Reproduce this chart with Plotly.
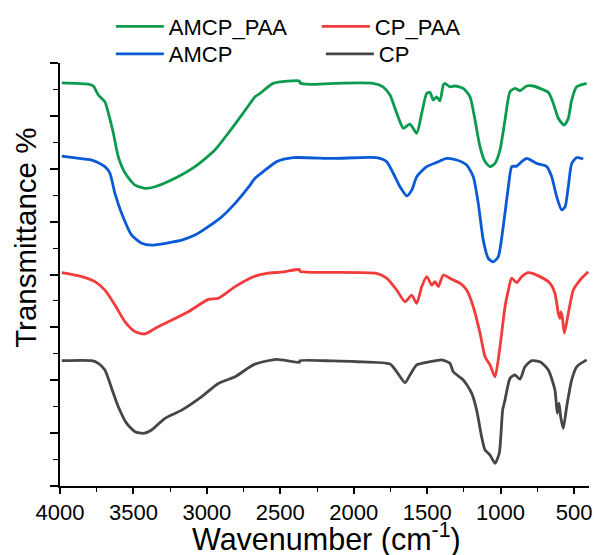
import plotly.graph_objects as go

# ---------------- data (wavenumber cm^-1, transmittance, offset a.u.) ----------------
amcp_paa_wn = [3988, 3807, 3773, 3739, 3694, 3671, 3637, 3603, 3557, 3489, 3421, 3353, 3217, 3081,
               2945, 2854, 2763, 2706, 2672, 2638, 2548, 2370, 2366, 2298, 2139, 1869, 1801, 1753,
               1707, 1662, 1617, 1571, 1537, 1503, 1481, 1458, 1435, 1413, 1390, 1379, 1345, 1310,
               1254, 1208, 1174, 1140, 1106, 1072, 1038, 1004, 970, 936, 902, 868, 822, 777, 732,
               675, 641, 607, 568, 539, 516, 482, 414]
amcp_paa_t = [152.5, 152.0, 151.3, 147.9, 145.3, 141.1, 133.5, 124.5, 118.4, 113.8, 112.6, 113.2, 116.4, 120.8,
              127.1, 133.5, 140.3, 144.7, 147.2, 148.5, 152.3, 153.2, 152.5, 151.9, 152.3, 152.3, 151.0, 147.9,
              141.0, 135.3, 136.9, 133.4, 141.0, 148.5, 148.9, 146.0, 147.2, 145.7, 151.7, 152.3, 151.0, 151.3,
              150.4, 147.2, 138.4, 128.3, 122.7, 120.8, 122.0, 127.1, 138.4, 149.1, 150.4, 149.5, 151.3, 151.3, 150.4,
              148.9, 144.7, 139.1, 136.5, 139.1, 146.0, 151.0, 152.3]

amcp_wn = [3988, 3830, 3784, 3739, 3694, 3660, 3626, 3580, 3512, 3444, 3376, 3263, 3171, 3081, 2990,
           2899, 2808, 2706, 2672, 2616, 2524, 2411, 2139, 1844, 1776, 1731, 1685, 1639, 1605, 1571,
           1503, 1435, 1367, 1299, 1231, 1186, 1152, 1118, 1084, 1050, 1016, 982, 947, 924, 890, 856,
           822, 754, 686, 652, 618, 584, 561, 539, 516, 482, 437]
amcp_t = [124.8, 123.6, 123.3, 122.3, 120.8, 118.3, 110.7, 103.1, 94.9, 91.8, 91.1, 92.0, 93.0, 94.9, 98.1,
          101.8, 106.9, 113.8, 116.4, 118.9, 122.7, 124.2, 123.9, 124.2, 122.7, 118.3, 113.2, 109.7, 111.9, 117.0,
          120.8, 122.4, 123.9, 123.3, 121.4, 117.0, 106.9, 93.0, 86.1, 84.8, 86.7, 98.1, 113.2, 120.8, 121.0, 122.7,
          123.9, 122.0, 120.8, 117.0, 109.4, 104.4, 105.6, 113.2, 122.0, 124.2, 123.7]

cp_paa_wn = [3988, 3852, 3762, 3694, 3626, 3557, 3489, 3421, 3353, 3263, 3126, 2990, 2922, 2808, 2706,
             2672, 2593, 2480, 2370, 2366, 2252, 1844, 1776, 1707, 1651, 1605, 1571, 1537, 1503, 1469,
             1447, 1424, 1390, 1345, 1322, 1276, 1231, 1186, 1140, 1106, 1072, 1038, 1004, 970, 947,
             924, 890, 856, 811, 732, 664, 630, 607, 596, 589, 580, 566, 539, 505, 459, 403]
cp_paa_t = [80.7, 79.2, 77.3, 74.1, 68.5, 62.1, 58.4, 57.5, 59.6, 62.1, 65.9, 70.6, 71.0, 75.4, 78.6,
            79.4, 80.4, 81.0, 81.9, 81.2, 80.8, 80.4, 78.6, 74.1, 69.7, 72.2, 69.1, 75.4, 79.2, 76.0,
            77.3, 75.4, 79.8, 78.6, 77.9, 76.7, 74.1, 67.8, 57.8, 48.9, 45.8, 41.3, 52.7, 67.8, 74.1,
            78.6, 76.9, 79.2, 80.7, 79.2, 76.7, 72.9, 65.3, 63.4, 65.9, 64.0, 57.8, 65.3, 74.1, 77.9, 81.0]

cp_wn = [3988, 3784, 3739, 3694, 3648, 3603, 3546, 3489, 3433, 3376, 3285, 3171, 3035, 2922, 2808,
         2706, 2672, 2616, 2524, 2370, 2366, 2139, 1980, 1753, 1707, 1651, 1617, 1571, 1481, 1401,
         1345, 1322, 1254, 1197, 1163, 1129, 1106, 1072, 1038, 1009, 986, 970, 936, 902, 868, 834,
         788, 732, 675, 630, 614, 602, 591, 573, 550, 516, 482, 414]
cp_t = [47.4, 47.4, 46.4, 43.9, 36.9, 30.0, 23.7, 20.5, 19.9, 21.2, 25.6, 28.7, 33.8, 38.8, 41.3,
        45.1, 46.1, 47.0, 47.9, 46.8, 47.4, 47.3, 47.0, 46.1, 43.2, 39.1, 42.0, 45.8, 47.0, 47.7,
        46.4, 43.2, 40.1, 35.1, 28.7, 18.6, 13.6, 11.7, 8.6, 12.4, 28.7, 32.5, 40.7, 42.0, 40.4, 45.1,
        47.4, 47.0, 43.9, 36.3, 27.5, 31.3, 26.2, 21.8, 30.0, 40.1, 45.1, 47.7]

series_names = ["AMCP_PAA", "CP_PAA", "AMCP", "CP"]
series_colors = ["#0b9a4e", "#f23b3b", "#0a5ad6", "#464646"]
legend_rows = ["legend", "legend", "legend2", "legend2"]
x_ticks = [4000, 3500, 3000, 2500, 2000, 1500, 1000, 500]
x_title = "Wavenumber (cm<sup>-1</sup>)"
y_title = "Transmittance %"

FONT = "Arial, Liberation Sans, sans-serif"

fig = go.Figure()
data = {
    "AMCP_PAA": (amcp_paa_wn, amcp_paa_t),
    "CP_PAA": (cp_paa_wn, cp_paa_t),
    "AMCP": (amcp_wn, amcp_t),
    "CP": (cp_wn, cp_t),
}
for name, color, lg in zip(series_names, series_colors, legend_rows):
    xs, ys = data[name]
    fig.add_trace(go.Scatter(x=xs, y=ys, mode="lines", name=name, legend=lg,
                             line=dict(color=color, width=2.8, shape="spline", smoothing=0.6)))

legend_common = dict(orientation="h", xref="container", yref="container",
                     xanchor="left", yanchor="top", entrywidthmode="pixels", itemwidth=48,
                     font=dict(size=22, family=FONT), bgcolor="rgba(0,0,0,0)",
                     itemclick=False, itemdoubleclick=False)

fig.update_layout(
    width=594, height=555,
    margin=dict(l=60, r=5, t=63, b=69, autoexpand=False),
    paper_bgcolor="white", plot_bgcolor="white",
    font=dict(family=FONT, color="black"),
    showlegend=True,
    legend=dict(x=0.1866, y=0.99, entrywidth=143, **legend_common),
    legend2=dict(x=0.1866, y=0.9405, entrywidth=147, **legend_common),
    annotations=[
        dict(text=y_title, textangle=-90, xref="paper", yref="paper",
             x=-0.064, y=0.587, xanchor="center", yanchor="middle",
             showarrow=False, font=dict(size=29.5, family=FONT, color="black")),
        dict(text=x_title, xref="paper", yref="paper",
             x=0.503, y=-0.173, xanchor="center", yanchor="bottom",
             showarrow=False, font=dict(size=30.5, family=FONT, color="black")),
    ],
)
fig.update_xaxes(
    range=[4000, 398], tickvals=x_ticks, ticktext=[str(v) for v in x_ticks],
    ticks="outside", ticklen=6, tickwidth=1.5, tickcolor="black",
    minor=dict(dtick=250, tick0=0, ticks="outside", ticklen=4, tickwidth=1.2, tickcolor="black"),
    showline=True, linewidth=1.5, linecolor="black", showgrid=False, zeroline=False,
    tickfont=dict(size=22, family=FONT), automargin=False,
)
fig.update_yaxes(
    range=[0, 160], dtick=20, tick0=0, showticklabels=False,
    ticks="outside", ticklen=8, tickwidth=1.5, tickcolor="black",
    minor=dict(dtick=10, tick0=0, ticks="outside", ticklen=5, tickwidth=1.2, tickcolor="black"),
    showline=True, linewidth=1.5, linecolor="black", showgrid=False, zeroline=False,
    automargin=False,
)

fig.write_html("out.html", config={"displayModeBar": False},
               post_script="document.body.style.margin='0px';")
